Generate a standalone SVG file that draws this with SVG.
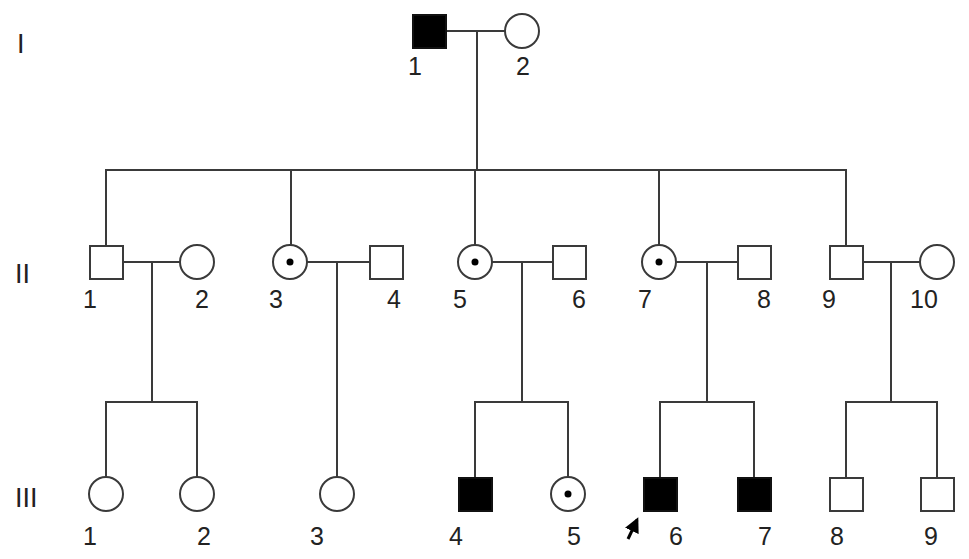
<svg xmlns="http://www.w3.org/2000/svg" width="969" height="559" viewBox="0 0 969 559">
<style>
.ln{stroke:#3a3a3a;stroke-width:2;fill:none}
.sh{stroke:#3a3a3a;stroke-width:2;fill:#fff}
.af{stroke:#111;stroke-width:2;fill:#000}
.dot{fill:#000}
text{font-family:"Liberation Sans",Arial,sans-serif;font-size:25px;fill:#222}
.gen{font-size:27px}
</style>
<defs>
<marker id="ah" viewBox="0 0 10 10" refX="8" refY="5" markerWidth="5" markerHeight="5" orient="auto">
<path d="M0,0 L10,5 L0,10 z" fill="#000"/>
</marker>
</defs>
<g id="gen-labels">
<text class="gen" x="17" y="53">I</text>
<text class="gen" x="15" y="283">II</text>
<text class="gen" x="15" y="507">III</text>
</g>
<g id="connectors">
<path class="ln" d="M446,31 H505 M477,31 V170 M106,246 V170 H846 V246 M291,170 V245 M475,170 V245 M659,170 V245"/>
<path class="ln" d="M123,262 H180 M152,262 V402 M106,477 V402 H197 V477"/>
<path class="ln" d="M307,262 H369 M337,262 V477"/>
<path class="ln" d="M492,262 H552 M522,262 V402 M475,477 V402 H568 V477"/>
<path class="ln" d="M676,262 H737 M707,262 V402 M660,477 V402 H754 V477"/>
<path class="ln" d="M863,262 H920 M891,262 V402 M846,477 V402 H937 V477"/>
</g>
<g id="I-1"><rect class="af" x="413" y="15" width="33" height="33"/><text x="408" y="75">1</text></g>
<g id="I-2"><circle class="sh" cx="522" cy="31" r="17"/><text x="516" y="75">2</text></g>
<g id="II-1"><rect class="sh" x="90" y="246" width="33" height="33"/><text x="83" y="308">1</text></g>
<g id="II-2"><circle class="sh" cx="197" cy="262" r="17"/><text x="195" y="308">2</text></g>
<g id="II-3"><circle class="sh" cx="290" cy="262" r="17"/><circle class="dot" cx="290" cy="262" r="3.5"/><text x="269" y="308">3</text></g>
<g id="II-4"><rect class="sh" x="370" y="246" width="33" height="33"/><text x="387" y="308">4</text></g>
<g id="II-5"><circle class="sh" cx="475" cy="262" r="17"/><circle class="dot" cx="475" cy="262" r="3.5"/><text x="453" y="308">5</text></g>
<g id="II-6"><rect class="sh" x="553" y="246" width="33" height="33"/><text x="572" y="308">6</text></g>
<g id="II-7"><circle class="sh" cx="659" cy="262" r="17"/><circle class="dot" cx="659" cy="262" r="3.5"/><text x="638" y="308">7</text></g>
<g id="II-8"><rect class="sh" x="738" y="246" width="33" height="33"/><text x="757" y="308">8</text></g>
<g id="II-9"><rect class="sh" x="830" y="246" width="33" height="33"/><text x="822" y="308">9</text></g>
<g id="II-10"><circle class="sh" cx="937" cy="262" r="17"/><text x="910" y="308">10</text></g>
<g id="III-1"><circle class="sh" cx="106" cy="494" r="17"/><text x="83" y="545">1</text></g>
<g id="III-2"><circle class="sh" cx="197" cy="494" r="17"/><text x="197" y="545">2</text></g>
<g id="III-3"><circle class="sh" cx="337" cy="494" r="17"/><text x="310" y="545">3</text></g>
<g id="III-4"><rect class="af" x="459" y="478" width="33" height="33"/><text x="449" y="545">4</text></g>
<g id="III-5"><circle class="sh" cx="568" cy="494" r="17"/><circle class="dot" cx="568" cy="494" r="3.5"/><text x="567" y="545">5</text></g>
<g id="III-6"><rect class="af" x="644" y="478" width="33" height="33"/><text x="669" y="545">6</text>
<path d="M628,539 L637,520" stroke="#000" stroke-width="3" marker-end="url(#ah)"/></g>
<g id="III-7"><rect class="af" x="738" y="478" width="33" height="33"/><text x="758" y="545">7</text></g>
<g id="III-8"><rect class="sh" x="830" y="478" width="33" height="33"/><text x="830" y="545">8</text></g>
<g id="III-9"><rect class="sh" x="921" y="478" width="33" height="33"/><text x="924" y="545">9</text></g>
</svg>
